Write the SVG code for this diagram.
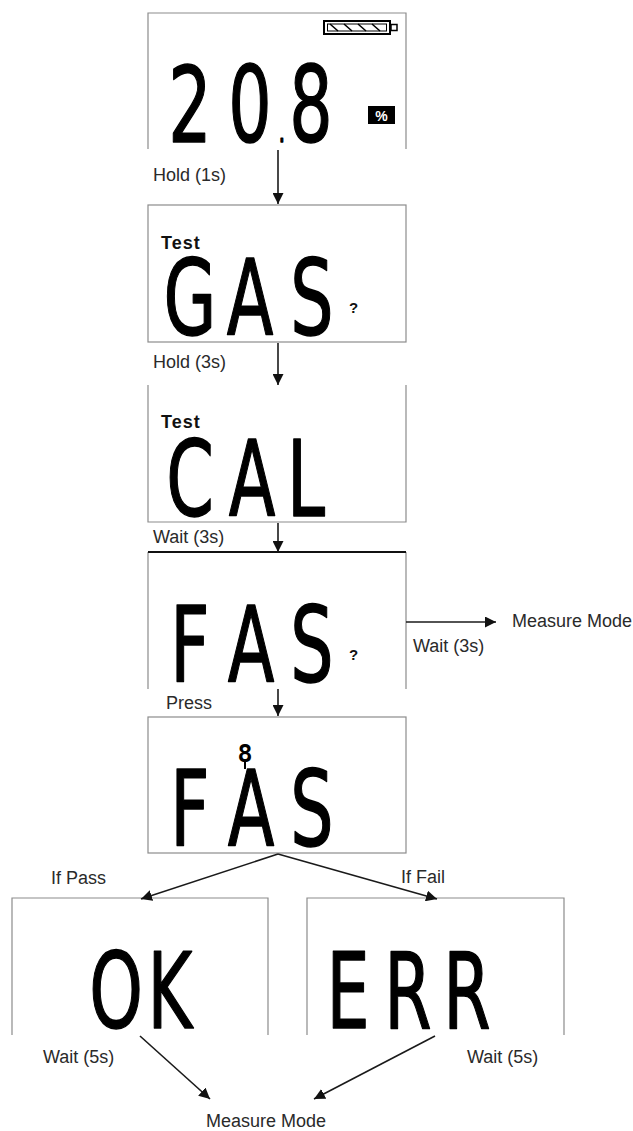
<svg xmlns="http://www.w3.org/2000/svg" width="633" height="1131" viewBox="0 0 633 1131">
<style>
.bg{fill:#ffffff}
.frame{fill:none;stroke:#8c8c8c;stroke-width:1.2}
.frameTop{fill:none;stroke:#111;stroke-width:2}
.lbl{font-family:"Liberation Sans",Arial,sans-serif;font-size:18px;fill:#2a2a2a}
.seg{font-family:"DejaVu Sans",sans-serif;font-size:105px;fill:#000;stroke:#000;stroke-width:1.5;stroke-linejoin:round;text-anchor:middle}
.small8{font-family:"DejaVu Sans Mono",monospace;font-size:25px;font-weight:bold;fill:#000;text-anchor:middle}
.test{font-family:"Liberation Sans",Arial,sans-serif;font-size:18px;font-weight:bold;fill:#111;letter-spacing:1px}
.q{font-family:"Liberation Sans",Arial,sans-serif;font-size:15px;font-weight:bold;fill:#111}
.conn{stroke:#1a1a1a;stroke-width:1.6;fill:none}
</style>
<defs>
<marker id="ahb" viewBox="0 0 10 10" refX="10" refY="5" markerWidth="11" markerHeight="11" markerUnits="userSpaceOnUse" orient="auto">
<path d="M0,0 L10,5 L0,10 z" fill="#111"/>
</marker>
</defs>
<rect class="bg" x="0" y="0" width="633" height="1131"/>

<g id="node-reading">
<path class="frame" d="M148,149 V13 H406 V149"/>
<g id="battery">
<rect x="324" y="21" width="66" height="13" fill="none" stroke="#000" stroke-width="2"/>
<rect x="391" y="24.5" width="6" height="6" fill="none" stroke="#000" stroke-width="1.5"/>
<rect x="327.5" y="24" width="59" height="7" fill="none" stroke="#000" stroke-width="1"/>
<path d="M330,24 L338,31 M344,24 L352,31 M358,24 L366,31 M372,24 L380,31" stroke="#000" stroke-width="1.6"/>
</g>
<text class="seg" transform="scale(0.65,1)" y="142" x="292.3 384.6 433.8 478.5">20<tspan font-size="30">.</tspan>8</text>
<rect x="368" y="106" width="27" height="18" fill="#000"/>
<text x="381.5" y="120.5" text-anchor="middle" font-family="Liberation Sans, Arial, sans-serif" font-size="14" font-weight="bold" fill="#fff">%</text>
</g>

<g id="node-testgas">
<rect class="frame" x="148" y="205" width="258" height="137"/>
<text class="test" x="161" y="249">Test</text>
<text class="seg" transform="scale(0.65,1)" y="335" x="292.3 384.6 480">GAS</text>
<text class="q" x="349" y="313">?</text>
</g>

<g id="node-testcal">
<path class="frame" d="M148,385 V522 H406 V385"/>
<text class="test" x="161" y="428">Test</text>
<text class="seg" transform="scale(0.65,1)" y="516" x="292.3 387.7 470.8">CAL</text>
</g>

<g id="node-fasq">
<path class="frame" d="M148,552 V689 M406,552 V689"/>
<path class="frameTop" d="M148,552 H406"/>
<text class="seg" transform="scale(0.65,1)" y="682" x="292.3 386.2 480">FAS</text>
<text class="q" x="349" y="660">?</text>
</g>

<g id="node-fas">
<rect class="frame" x="148" y="717" width="258" height="136"/>
<text class="small8" x="245" y="762">8</text>
<path d="M245,762 V769" stroke="#000" stroke-width="2"/>
<text class="seg" transform="scale(0.65,1)" y="846" x="292.3 386.2 480">FAS</text>
</g>

<g id="node-ok">
<path class="frame" d="M12,1035 V898 H268 V1035"/>
<text class="seg" transform="scale(0.65,1)" y="1028" x="178.5 261.5">OK</text>
</g>

<g id="node-err">
<path class="frame" d="M307,1035 V898 H564 V1035"/>
<text class="seg" transform="scale(0.65,1)" y="1028" x="535.4 627.7 718.5">ERR</text>
</g>

<g id="connectors">
<line class="conn" x1="278" y1="150" x2="278" y2="204" marker-end="url(#ahb)"/>
<line class="conn" x1="278" y1="343" x2="278" y2="385" marker-end="url(#ahb)"/>
<line class="conn" x1="278" y1="523" x2="278" y2="552" marker-end="url(#ahb)"/>
<line class="conn" x1="278" y1="689" x2="278" y2="716" marker-end="url(#ahb)"/>
<line class="conn" x1="406" y1="622" x2="496" y2="622" marker-end="url(#ahb)"/>
<line class="conn" x1="278" y1="854" x2="141" y2="899" marker-end="url(#ahb)"/>
<line class="conn" x1="278" y1="854" x2="437" y2="899" marker-end="url(#ahb)"/>
<line class="conn" x1="140" y1="1036" x2="210" y2="1099" marker-end="url(#ahb)"/>
<line class="conn" x1="435" y1="1036" x2="314" y2="1099" marker-end="url(#ahb)"/>
</g>

<g id="labels">
<text class="lbl" x="153" y="181">Hold (1s)</text>
<text class="lbl" x="153" y="368">Hold (3s)</text>
<text class="lbl" x="153" y="543">Wait (3s)</text>
<text class="lbl" x="512" y="627">Measure Mode</text>
<text class="lbl" x="413" y="652">Wait (3s)</text>
<text class="lbl" x="166" y="709">Press</text>
<text class="lbl" x="51" y="884">If Pass</text>
<text class="lbl" x="401" y="883">If Fail</text>
<text class="lbl" x="43" y="1063">Wait (5s)</text>
<text class="lbl" x="467" y="1063">Wait (5s)</text>
<text class="lbl" x="206" y="1127">Measure Mode</text>
</g>
</svg>
